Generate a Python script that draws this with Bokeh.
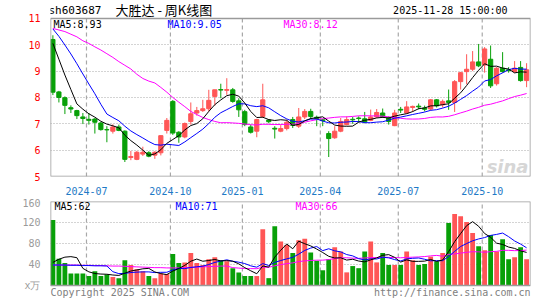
from bokeh.plotting import figure
from bokeh.layouts import column
from bokeh.models import ColumnDataSource, FixedTicker, Label, Range1d, BoxAnnotation
from bokeh.embed import file_html
from bokeh.resources import INLINE

# ---------------- data (weekly bars 2024-05-24 .. 2025-11-28) ----------------
opens = [10.20, 8.21, 7.99, 7.61, 7.50, 7.26, 7.17, 7.18, 7.03, 6.78,
         6.72, 6.88, 6.72, 5.72, 5.65, 5.85, 5.90, 5.81, 5.90, 6.75,
         7.85, 6.68, 6.50, 7.09, 7.41, 7.50, 7.57, 8.04, 8.30, 8.27,
         8.29, 7.87, 7.46, 6.88, 6.72, 7.28, 7.14, 6.83, 6.72, 6.82,
         7.16, 6.91, 7.26, 7.47, 7.25, 7.15, 6.63, 6.47, 6.72, 6.97,
         7.17, 7.22, 7.19, 7.13, 7.26, 7.41, 7.22, 6.93, 7.55, 7.41,
         7.62, 7.67, 7.60, 7.56, 7.91, 7.72, 7.87, 7.81, 8.60, 8.98,
         9.07, 9.35, 9.23, 9.45, 8.52, 9.11, 9.05, 8.98, 9.14, 8.64]
highs = [10.36, 8.25, 8.04, 7.70, 7.53, 7.41, 7.41, 7.22, 7.07, 6.91,
         6.98, 6.97, 6.75, 5.97, 5.97, 6.13, 5.96, 5.96, 6.56, 7.22,
         7.90, 6.72, 7.05, 7.81, 7.64, 7.91, 8.29, 8.29, 8.52, 8.73,
         8.36, 7.97, 7.53, 6.97, 7.19, 8.52, 7.18, 6.91, 6.95, 7.15,
         7.26, 7.60, 7.56, 7.57, 7.31, 7.18, 6.72, 6.91, 7.22, 7.28,
         7.26, 7.28, 7.45, 7.54, 7.56, 7.58, 7.28, 7.53, 7.64, 7.86,
         7.69, 7.77, 7.69, 7.94, 7.94, 7.92, 8.30, 8.66, 8.97, 9.64,
         9.76, 10.03, 9.91, 9.97, 9.15, 9.72, 9.15, 9.38, 9.38, 9.30]
lows = [8.09, 7.81, 7.37, 7.41, 7.18, 6.99, 6.97, 6.63, 6.74, 6.30,
        6.63, 6.72, 5.55, 5.62, 5.62, 5.78, 5.73, 5.67, 5.80, 6.63,
        6.58, 6.28, 6.45, 6.97, 7.31, 7.45, 7.47, 7.69, 7.97, 8.10,
        7.80, 7.26, 6.91, 6.63, 6.49, 7.22, 7.02, 6.44, 6.68, 6.75,
        6.84, 6.84, 7.18, 7.18, 6.91, 6.91, 5.74, 6.43, 6.68, 6.94,
        7.00, 7.05, 7.02, 7.10, 7.22, 7.22, 6.97, 6.91, 7.41, 7.38,
        7.45, 7.55, 7.47, 7.50, 7.62, 7.62, 7.53, 7.45, 8.30, 8.50,
        9.00, 9.15, 8.94, 8.36, 8.45, 8.94, 8.94, 8.94, 8.60, 8.39]
closes = [8.20, 8.00, 7.70, 7.56, 7.31, 7.20, 7.13, 7.06, 6.78, 6.77,
          6.88, 6.75, 5.65, 5.76, 5.92, 5.92, 5.77, 5.92, 6.55, 7.13,
          6.65, 6.50, 7.01, 7.38, 7.50, 7.57, 7.89, 8.29, 8.28, 8.30,
          7.85, 7.53, 6.97, 6.68, 7.16, 7.91, 7.08, 6.80, 6.82, 7.06,
          6.94, 7.26, 7.47, 7.28, 7.20, 7.12, 6.44, 6.72, 7.09, 7.16,
          7.15, 7.20, 7.07, 7.26, 7.43, 7.26, 7.09, 7.41, 7.52, 7.64,
          7.66, 7.64, 7.55, 7.91, 7.68, 7.85, 7.81, 8.60, 8.94, 9.07,
          9.35, 9.20, 9.84, 8.44, 9.11, 8.98, 9.02, 9.11, 8.64, 9.05]
volumes = [125, 51, 43, 23, 23, 23, 18, 27, 18, 21,
           16, 14, 48, 39, 31, 27, 18, 14, 23, 22,
           60, 43, 44, 62, 43, 39, 50, 54, 48, 46,
           33, 25, 18, 18, 18, 107, 14, 113, 84, 77,
           62, 86, 89, 63, 47, 29, 50, 73, 65, 25,
           37, 33, 65, 84, 44, 62, 39, 39, 39, 65,
           48, 39, 41, 55, 46, 62, 119, 136, 132, 121,
           100, 75, 67, 96, 65, 88, 50, 54, 73, 50]

# moving-average values before a full window is available
ma5_head = [10.05, 9.45, 8.85, 8.30]
ma10_head = [10.60, 10.32, 9.99, 9.65, 9.28, 8.89, 8.51, 8.14, 7.74]
ma30_head = [10.62, 10.56, 10.50, 10.40, 10.30, 10.15, 10.05, 9.92, 9.80, 9.66,
             9.52, 9.36, 9.22, 9.08, 8.88, 8.72, 8.62, 8.55, 8.38, 8.20,
             8.00, 7.82, 7.65, 7.47, 7.35, 7.24, 7.16, 7.09, 7.04]
vma5_head = [44, 50, 54, 55]
vma10_head = [39, 39, 39, 38.5, 38.5, 38, 38, 37.5, 37.5]
vma30_head = [39, 39, 39, 39, 39, 38.5, 38.5, 38, 38, 37.5,
              37, 37, 36.5, 36, 35.5, 35, 34.5, 34, 34, 33.5,
              33.5, 33.5, 34, 34.5, 35, 35.5, 36, 36.5, 37]

month_first_bar = [6, 20, 32, 45, 58, 72]
month_labels = ["2024-07", "2024-10", "2025-01", "2025-04", "2025-07", "2025-10"]
price_ticks = [5, 6, 7, 8, 9, 10, 11]
volume_ticks = [0, 40, 80, 120, 160]
volume_unit = "x万"

legend_price = ["MA5:8.93", "MA10:9.05", "MA30:8.12"]
legend_volume = ["MA5:62", "MA10:71", "MA30:66"]

# ---------------- helpers ----------------
RED = "#ff5656"
GREEN = "#08a008"
MA_COLORS = ["#000000", "#0000ff", "#ff00ff"]
GRID = "#a8a8a8"
BORDER = "#9a9a9a"
MONO = "DejaVu Sans Mono"


def moving_average(values, n, head):
    out = list(head)
    for i in range(len(head), len(values)):
        out.append(sum(values[i - n + 1:i + 1]) / n)
    return out


idx = list(range(len(closes)))
colors = [RED if c >= o else GREEN for o, c in zip(opens, closes)]
src = ColumnDataSource(dict(
    x=idx, o=opens, h=highs, l=lows, c=closes, v=volumes, color=colors,
    top=[max(o, c) for o, c in zip(opens, closes)],
    bot=[min(o, c) for o, c in zip(opens, closes)],
    ma5=moving_average(closes, 5, ma5_head),
    ma10=moving_average(closes, 10, ma10_head),
    ma30=moving_average(closes, 30, ma30_head),
    vma5=moving_average(volumes, 5, vma5_head),
    vma10=moving_average(volumes, 10, vma10_head),
    vma30=moving_average(volumes, 30, vma30_head),
))

grid_x = [b - 0.4 for b in month_first_bar]
x_start, x_end = -0.4, len(closes) - 0.35


def style_panel(p, y_lo, y_hi, grid_ticks):
    p.outline_line_color = None
    p.background_fill_color = "white"
    p.border_fill_color = "white"
    p.xgrid.visible = False
    p.ygrid.ticker = FixedTicker(ticks=grid_ticks)
    p.ygrid.grid_line_color = GRID
    p.ygrid.grid_line_dash = "1 2"
    p.ygrid.grid_line_width = 1.2
    # month separators, limited to the panel box
    p.segment(x0=grid_x, y0=y_lo, x1=grid_x, y1=y_hi, line_color=GRID,
              line_dash="4 3", line_width=1.2)
    p.add_layout(BoxAnnotation(left=x_start, right=x_end, bottom=y_lo, top=y_hi,
                               fill_alpha=0, line_color=BORDER, line_width=1.5,
                               line_alpha=1))
    for ax in p.yaxis:
        ax.axis_line_color = None
        ax.major_tick_line_color = None
        ax.minor_tick_line_color = None
        ax.major_label_text_font = MONO
        ax.major_label_text_font_size = "10px"
        ax.major_label_standoff = 4


def add_label(p, text, x, y, color="#000000", size="10px", font=MONO,
              align="left", style="normal"):
    p.add_layout(Label(x=x, y=y, x_units="screen", y_units="screen", text=text,
                       text_color=color, text_font=font, text_font_size=size,
                       text_align=align, text_baseline="middle",
                       text_font_style=style))


# ---------------- main price panel (frame includes the header strip) ----------------
PX_PER_UNIT = 159 / 6.0
p1 = figure(width=545, height=197, x_range=Range1d(x_start, x_end),
            y_range=Range1d(5, 11 + 18 / PX_PER_UNIT), toolbar_location=None,
            output_backend="svg", min_border_left=50, min_border_right=15,
            min_border_top=0, min_border_bottom=20, title=None)
style_panel(p1, 5, 11, price_ticks[1:-1])
p1.yaxis.ticker = FixedTicker(ticks=price_ticks)
p1.yaxis.major_label_text_color = "#ff0000"
p1.xaxis.ticker = FixedTicker(ticks=grid_x)
p1.xaxis.major_label_overrides = {g: lab for g, lab in zip(grid_x, month_labels)}
p1.xaxis.axis_line_color = None
p1.xaxis.major_tick_line_color = None
p1.xaxis.minor_tick_line_color = None
p1.xaxis.major_label_text_font = MONO
p1.xaxis.major_label_text_font_size = "10px"
p1.xaxis.major_label_text_color = "#1e7ac6"
p1.xaxis.major_label_standoff = 4

p1.segment(x0="x", y0="l", x1="x", y1="h", color="color", line_width=1, source=src)
p1.vbar(x="x", bottom="bot", top="top", width=0.7, fill_color="color",
        line_color="color", line_width=1, source=src)
for col, colr in zip(["ma30", "ma10", "ma5"], MA_COLORS[::-1]):
    p1.line(x="x", y=col, line_color=colr, line_width=1, source=src)

add_label(p1, "sh603687", -2, 166, size="11px")
add_label(p1, "大胜达 - 周K线图", 65, 167, size="13px", font="Noto Sans CJK SC")
add_label(p1, "2025-11-28 15:00:00", 457, 166, align="right")
for text, x, colr in zip(legend_price, [3, 117, 233], MA_COLORS):
    add_label(p1, text, x, 152, color=colr)
add_label(p1, "sina", 478, 10, color="#d6d6d6", size="18px",
          font="DejaVu Sans", align="right", style="bold italic")

# ---------------- volume panel (frame includes the footer strip) ----------------
VPX = 84 / 160.0
p2 = figure(width=545, height=103, x_range=p1.x_range,
            y_range=Range1d(-15 / VPX, 160), toolbar_location=None,
            output_backend="svg", min_border_left=50, min_border_right=15,
            min_border_top=4, min_border_bottom=0, title=None)
style_panel(p2, 0, 160, volume_ticks[1:-1])
p2.xaxis.visible = False
p2.yaxis.ticker = FixedTicker(ticks=volume_ticks)
p2.yaxis.major_label_overrides = {volume_ticks[0]: volume_unit}
p2.yaxis.major_label_text_color = "#9a9a9a"

p2.vbar(x="x", bottom=0, top="v", width=0.8, fill_color="color",
        line_color=None, source=src)
for col, colr in zip(["vma30", "vma10", "vma5"], MA_COLORS[::-1]):
    p2.line(x="x", y=col, line_color=colr, line_width=1, source=src)

for text, x, colr in zip(legend_volume, [4, 125, 245], MA_COLORS):
    add_label(p2, text, x, 94, color=colr)
add_label(p2, "Copyright 2025 SINA.COM", 0, 8, color="#808080")
add_label(p2, "http://finance.sina.com.cn", 480, 8, color="#808080", align="right")

layout = column(p1, p2)
open("out.html", "w").write(file_html(layout, INLINE))
